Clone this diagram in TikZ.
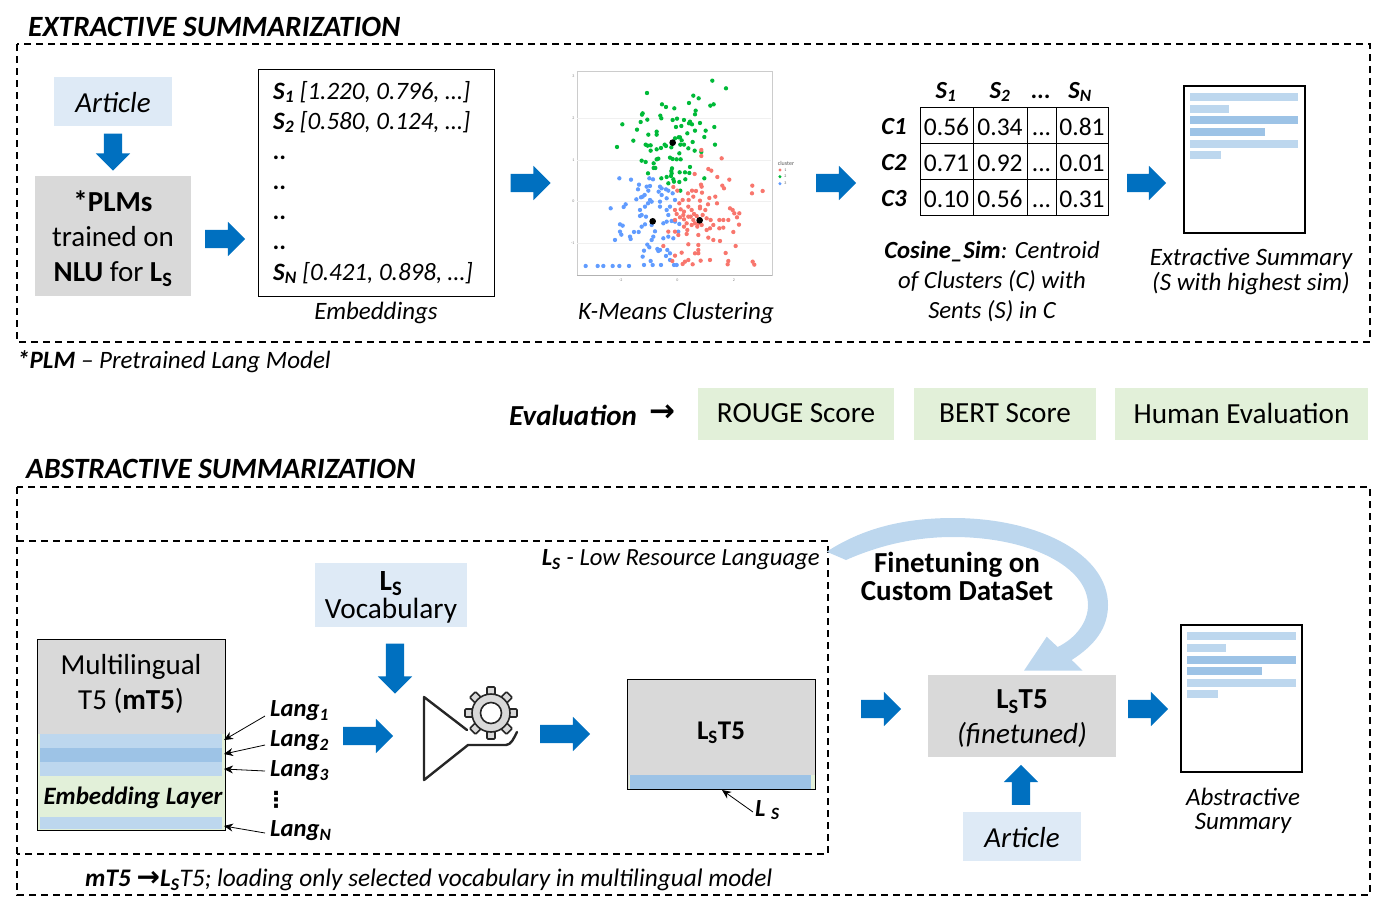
\documentclass[tikz,border=0pt]{standalone}
\usepackage{fontspec}
\setmainfont{Carlito}
\newfontfamily\symfont{DejaVu Sans}
\usetikzlibrary{shapes.arrows,arrows.meta}

\definecolor{arrowblue}{HTML}{0070C0}
\definecolor{paleblue}{HTML}{DEEAF6}
\definecolor{midblue}{HTML}{BDD7EE}
\definecolor{deepblue}{HTML}{9DC3E6}
\definecolor{palegreen}{HTML}{E2F0D9}
\definecolor{boxgray}{HTML}{D9D9D9}
\definecolor{dotred}{HTML}{F8766D}
\definecolor{dotgreen}{HTML}{00BA38}
\definecolor{dotblue}{HTML}{619CFF}

\newcommand{\subs}[1]{\textsubscript{#1}}

\tikzset{
  itxt/.style={font=\fontsize{25}{25}\selectfont\itshape, inner sep=0pt, align=center},
  bitxt/.style={font=\fontsize{24.6}{25}\selectfont\bfseries\itshape, inner sep=0pt, align=center},
  boxtxt/.style={font=\fontsize{29}{35}\selectfont, inner sep=0pt, align=center},
  titletxt/.style={font=\fontsize{29.4}{30}\selectfont\bfseries\itshape, inner sep=0pt, anchor=west},
  dashbox/.style={draw, line width=1.3pt, dash pattern=on 7pt off 5pt},
  blockarrow/.style={single arrow, fill=arrowblue, inner sep=9pt, minimum height=#1,
    single arrow head extend=8pt, single arrow head indent=0pt},
  thinarrow/.style={-{Stealth[length=9pt,width=8pt]}, line width=0.8pt},
  cell/.style={draw, line width=0.9pt, inner sep=0pt, minimum height=36, text height=20, text depth=0,
    font=\fontsize{25.5}{26}\selectfont},
  filledbox/.style={inner sep=0pt, fill=#1},
  evalbox/.style={filledbox=palegreen, minimum height=52},
  evaltxt/.style={font=\fontsize{29.2}{30}\selectfont, inner sep=0pt}
}

\begin{document}
\begin{tikzpicture}[x=1pt,y=-1pt]
  \useasboundingbox (0,0) rectangle (1373,908);

  % --- extractive part ---
  \node[titletxt] (exttitle) at (28,27) {EXTRACTIVE SUMMARIZATION};
  \draw[dashbox] (17,44) rectangle (1370,342);

  \node[filledbox=paleblue, minimum width=118, minimum height=49] (article) at (113,101.5) {};
  \node[boxtxt, font=\fontsize{29}{29}\selectfont\itshape] (articletxt) at (113,103) {Article};
  \node[blockarrow=37, shape border rotate=270] (arrowdown) at (113,147.5) {};
  \node[filledbox=boxgray, minimum width=156, minimum height=120] (plm) at (113,236) {};
  \node[boxtxt] (plmtxt) at (113,239)
    {\textbf{*PLMs}\\trained on\\\textbf{NLU} for \textbf{L\subs{S}}};
  \node[blockarrow=40] (arrowplm) at (220.5,239) {};

  % embeddings
  \draw[line width=0.9pt] (258,69) rectangle (494,296);
  \foreach \i/\y/\s in {1/92/{\textbf{S\subs{1}} [1.220, 0.796, …]},
                        2/122/{\textbf{S\subs{2}} [0.580, 0.124, …]},
                        3/158/{\textbf{..}}, 4/188/{\textbf{..}}, 5/218/{\textbf{..}}, 6/248/{\textbf{..}},
                        7/273/{\textbf{S\subs{N}} [0.421, 0.898, …]}}
    \node[itxt, anchor=west] (sent\i) at (273,\y) {\s};
  \node[itxt] (emblabel) at (376,313) {Embeddings};
  \node[blockarrow=40] (arrowemb) at (526,183) {};

  % cluster plot
  \draw[gray!40, line width=0.8pt] (577,71) rectangle (772,275);
  \draw[gray!60, line width=1pt] (577,275) -- (772,275);
  \begin{scope}[shift={(560,60)},x=0.3333pt,y=-0.3333pt]
    \foreach \y in {175,300,425,550} \draw[gray!12, line width=0.6pt] (52,\y) -- (633,\y);
    \foreach \y/\s in {50/3,175/2,300/1,425/0,550/-1}
      \node[gray, font=\fontsize{4}{4}\selectfont, inner sep=0pt, anchor=east] (ytick\y) at (44,\y) {\s};
    \foreach \x/\s in {182/-2,352/0,522/2}
      \node[gray, font=\fontsize{4}{4}\selectfont, inner sep=0pt] (xtick\x) at (\x,662) {\s};
    \foreach \a/\b in {457/62,498/85,261/99,400/107,416/115,387/129,306/133,318/141,343/145,461/133,451/137,407/152,405/163,248/160,246/164,301/167,304/175,242/186,262/179,187/193,338/180,351/176,372/180,390/185,387/190,396/193,420/189,463/201,231/209,348/201,364/198,382/220,405/212,437/212,290/215,265/224,290/224,433/231,220/242,360/232,356/232,345/235,365/241,398/246,257/254,263/257,272/256,272/272,290/268,303/264,314/254,318/258,334/262,361/254,372/254,385/265,404/272,424/276,465/254,171/261,358/280,295/296,290/298,245/302,257/306,330/293,338/297,350/298,362/298,281/310,281/324,286/324,336/325,390/321,264/340,334/333,335/340,359/337,375/337,388/339,320/351,333/348,304/355,340/358,376/358,433/355,325/370,342/365,358/366,361/392}
      \fill[dotgreen] (\a,\b) circle[radius=6.5];
    \foreach \a/\b in {77/618,113/618,130/618,158/618,178/618,207/618,178/355,213/359,237/374,234/388,268/355,279/358,152/445,191/441,197/433,229/418,243/412,248/410,254/405,260/380,270/378,265/392,300/380,305/385,296/395,318/388,325/392,338/400,305/405,320/415,300/425,270/420,264/430,275/425,240/450,245/465,255/440,258/470,300/440,320/450,330/440,345/420,325/465,240/468,180/493,188/497,180/515,184/524,165/540,210/530,212/537,222/516,236/516,245/500,255/493,275/495,285/514,280/530,275/540,310/490,320/485,335/483,345/485,358/492,355/515,340/535,325/530,310/535,262/554,268/562,252/572,292/567,295/573,248/590,252/615,272/603,278/615,303/615,318/588,330/580,322/570,342/615,350/615,330/600,300/570}
      \fill[dotblue] (\a,\b) circle[radius=6.5];
    \foreach \a/\b in {424/270,424/288,485/295,445/327,454/332,404/342,472/351,508/359,423/374,425/380,487/377,492/385,577/377,576/400,608/393,340/381,352/392,384/400,396/392,408/393,426/398,466/410,400/410,386/420,368/420,448/414,420/422,471/430,510/445,518/450,523/460,538/460,531/472,537/494,444/433,420/440,358/430,345/450,350/462,362/448,372/455,385/440,395/450,345/480,360/472,372/478,380/490,392/470,402/462,410/468,428/465,440/475,452/480,460/495,478/480,490/480,505/480,478/505,490/503,520/516,372/500,382/510,395/495,405/490,412/500,425/495,440/510,450/505,460/540,480/543,445/533,415/525,380/522,345/515,355/525,325/515,385/553,415/555,415/570,405/580,415/580,365/578,345/587,310/558,337/603,385/600,375/605,368/612,398/613,422/602,450/600,497/579,527/558,505/603,503/613,578/605,583/614,420/445,436/450,400/480,385/470,370/465,415/490}
      \fill[dotred] (\a,\b) circle[radius=6.5];
    % centroids
    \foreach \a/\b in {338/248,278/484,419/481}
      \fill[black] (\a,\b) circle[radius=10];
    % legend
    \node[gray!70!black, font=\fontsize{6}{6}\selectfont, inner sep=0pt] (legendtitle) at (678,309) {cluster};
    \foreach \i/\y/\c in {1/330/dotred,2/350/dotgreen,3/371/dotblue} {
      \fill[\c] (660,\y) circle[radius=5];
      \node[gray!70!black, font=\fontsize{4}{4}\selectfont, inner sep=0pt] (legend\i) at (676,\y) {\i};
    }
  \end{scope}
  \node[itxt] (kmlabel) at (676,313) {K-Means Clustering};
  \node[blockarrow=40] (arrowkm) at (831.5,183) {};

  % similarity table
  \foreach \c/\x/\y/\s in {1/946/92/S\subs{1},2/1000/92/S\subs{2},3/1041/97/{...},4/1080/92/S\subs{N}}
    \node[bitxt] (head\c) at (\x,\y) {\s};
  \foreach \r/\y/\a/\b/\d in {1/125/0.56/0.34/0.81, 2/161/0.71/0.92/0.01, 3/197/0.10/0.56/0.31} {
    \node[bitxt] (clus\r) at (894,\y+2) {C\r};
    \node[cell, minimum width=53] (cell\r a) at (946.5,\y) {\a};
    \node[cell, minimum width=54] (cell\r b) at (1000,\y) {\b};
    \node[cell, minimum width=29] (cell\r c) at (1041.5,\y) {{...}};
    \node[cell, minimum width=52] (cell\r d) at (1082,\y) {\d};
  }
  \node[itxt, font=\fontsize{24.7}{30}\selectfont\itshape] (cosine) at (992,282)
    {\textbf{Cosine\_Sim}: Centroid\\of Clusters (C) with\\Sents (S) in C};
  \node[blockarrow=39] (arrowtab) at (1142,183) {};

  % extractive summary page
  \draw[line width=1.2pt] (1184,86) rectangle (1305,233);
  \foreach \y/\e in {93/1298,105/1229,116/1298,128/1265,140/1298,151/1221}
    \fill[midblue] (1190,\y) rectangle (\e,\y+8);
  \fill[deepblue] (1190,116) rectangle (1298,124);
  \fill[deepblue] (1190,128) rectangle (1265,136);
  \node[itxt, font=\fontsize{25}{25}\selectfont\itshape] (extsum) at (1251,271.5) {Extractive Summary\\(S with highest sim)};

  \node[itxt, anchor=west] (plmnote) at (17,362) {\textbf{*PLM} – Pretrained Lang Model};

  % --- evaluation row ---
  \node[anchor=west, inner sep=0pt, font=\fontsize{29}{29}\selectfont\bfseries\itshape] (evallabel) at (509,415) {Evaluation};
  \node[anchor=west, inner sep=0pt, font=\fontsize{31}{31}\selectfont\symfont\bfseries] (evalsym) at (649,413) {→};
  \node[evalbox, minimum width=196] (rouge) at (796,414) {};
  \node[evaltxt] (rougetxt) at (796,413) {ROUGE Score};
  \node[evalbox, minimum width=182] (bert) at (1005,414) {};
  \node[evaltxt] (berttxt) at (1005,413) {BERT Score};
  \node[evalbox, minimum width=253] (human) at (1241.5,414) {};
  \node[evaltxt] (humantxt) at (1241.5,413) {Human Evaluation};

  % --- abstractive part ---
  \node[titletxt] (abstitle) at (26,469) {ABSTRACTIVE SUMMARIZATION};
  \draw[dashbox] (17,487) rectangle (1370,895);
  \draw[dashbox] (17,541) -- (828,541) -- (828,854) -- (17,854);
  \node[itxt, anchor=east, font=\fontsize{24.7}{25}\selectfont\itshape] (lowres) at (820,560) {\textbf{L\subs{S}} - Low Resource Language};

  % vocabulary and tuner
  \node[filledbox=paleblue, minimum width=152, minimum height=64] (vocab) at (391,595) {};
  \node[boxtxt, font=\fontsize{29.3}{28}\selectfont] (vocabtxt) at (391,597) {\textbf{L\subs{S}}\\Vocabulary};
  \node[blockarrow=50, shape border rotate=270] (arrowvocab) at (395,664) {};

  % multilingual model
  \node[filledbox=boxgray, draw, line width=1pt, minimum width=188, minimum height=191] (mtbox) at (131,734.5) {};
  \node[boxtxt] (mtlabel) at (131,683.5) {Multilingual\\T5 (\textbf{mT5})};
  \fill[palegreen] (38,734) rectangle (224.5,829.5);
  \fill[midblue] (40,734) rectangle (222,748);
  \fill[deepblue] (40,748) rectangle (222,762);
  \fill[midblue] (40,762) rectangle (222,776);
  \fill[midblue] (40,817) rectangle (222,829);
  \node[bitxt, font=\fontsize{25}{25}\selectfont\bfseries\itshape] (emblayer) at (133,797.5) {Embedding Layer};
  \foreach \i/\y/\s/\ty/\ay in {1/711/1/716/740,2/741/2/745/754,3/771/3/771/769,4/831/N/833/826} {
    \node[bitxt, anchor=west] (lang\i) at (270,\y) {Lang\subs{\s}};
    \coordinate (from\i) at (265,\ty);
    \coordinate (to\i) at (224,\ay);
    \draw[thinarrow] (from\i) -- (to\i);
  }
  \node[font=\fontsize{22}{22}\selectfont\symfont\bfseries, inner sep=0pt] (langdots) at (276,800) {⋮};
  \node[blockarrow=50] (arrowlang) at (363.5,736) {};

  % funnel with gear
  \begin{scope}[shift={(491,713)}]
    \foreach \a in {0,45,...,315}
      \draw[rotate=\a, fill=boxgray, draw=black!85, line width=1.6pt, rounded corners=1pt] (-4,-26) rectangle (4,-15);
    \draw[fill=boxgray, draw=black!85, line width=1.6pt] (0,0) circle (19);
    \draw[fill=white, draw=black!85, line width=1.6pt] (0,0) circle (10.5);
  \end{scope}
  \draw[black!85, line width=2.4pt, line cap=round, line join=round]
    (467,730) -- (424,697) -- (424,780) -- (468,745) -- (506,745) .. controls (511,745) and (514,738) .. (517,732);
  \node[blockarrow=50] (arrowtune) at (560.5,734) {};

  % reduced model
  \node[filledbox=boxgray, draw, line width=1pt, minimum width=188, minimum height=110] (lstfive) at (721.5,734.5) {};
  \fill[palegreen] (628.5,775) rectangle (815,789);
  \fill[deepblue] (630,775) rectangle (811,789);
  \node[boxtxt, font=\fontsize{27}{27}\selectfont\bfseries] (lstfivelabel) at (721,733) {L\subs{S}T5};
  \node[bitxt, anchor=west] (lsmark) at (755,810) {L \subs{S}};
  \coordinate (lsfrom) at (753,812);
  \coordinate (lsto) at (722,790);
  \draw[thinarrow] (lsfrom) -- (lsto);

  \node[itxt, anchor=west, font=\fontsize{25.3}{26}\selectfont\itshape] (mtnote) at (85,880)
    {\textbf{mT5} {\fontsize{28}{28}\selectfont\symfont\bfseries →}\textbf{L\subs{S}}T5; loading only selected vocabulary in multilingual model};

  % finetuning loop
  \fill[midblue] (826.7,551.7) .. controls (860,530) and (900,518) .. (953,518)
    .. controls (1040,518) and (1108,555) .. (1108,605)
    .. controls (1108,628) and (1095,645) .. (1071.7,660)
    -- (1082.7,670.7) -- (1024,670.7) -- (1046.7,636.7) -- (1057.7,647)
    .. controls (1076,638) and (1088,622) .. (1088,605)
    .. controls (1088,567) and (1030,537) .. (953,537)
    .. controls (915,537) and (880,545) .. (846,560) -- cycle;
  \node[boxtxt, font=\fontsize{29}{28}\selectfont\bfseries] (finelabel) at (957,576) {Finetuning on\\Custom DataSet};

  \node[blockarrow=40] (arrowmid) at (876.5,709) {};
  \node[filledbox=boxgray, minimum width=188, minimum height=82] (finetuned) at (1022,716) {};
  \node[boxtxt] (finetxt) at (1022,719) {\textbf{L\subs{S}T5}\\\textit{(finetuned)}};
  \node[blockarrow=40, shape border rotate=90] (arrowup) at (1021,789.5) {};
  \node[filledbox=paleblue, minimum width=118, minimum height=49] (articlebot) at (1022,836.5) {};
  \node[boxtxt, font=\fontsize{29}{29}\selectfont\itshape] (articlebottxt) at (1022,838) {Article};
  \node[blockarrow=40] (arrowfine) at (1143.5,709) {};

  % abstractive summary page
  \draw[line width=1.2pt] (1181,625) rectangle (1302,772);
  \foreach \y/\e in {632/1296,644/1226,656/1296,667/1262,679/1296,690/1218}
    \fill[midblue] (1187,\y) rectangle (\e,\y+8);
  \fill[deepblue] (1187,656) rectangle (1296,664);
  \fill[deepblue] (1187,667) rectangle (1262,675);
  \node[itxt, font=\fontsize{25}{24}\selectfont\itshape] (abssum) at (1243,811) {Abstractive\\Summary};
\end{tikzpicture}
\end{document}
